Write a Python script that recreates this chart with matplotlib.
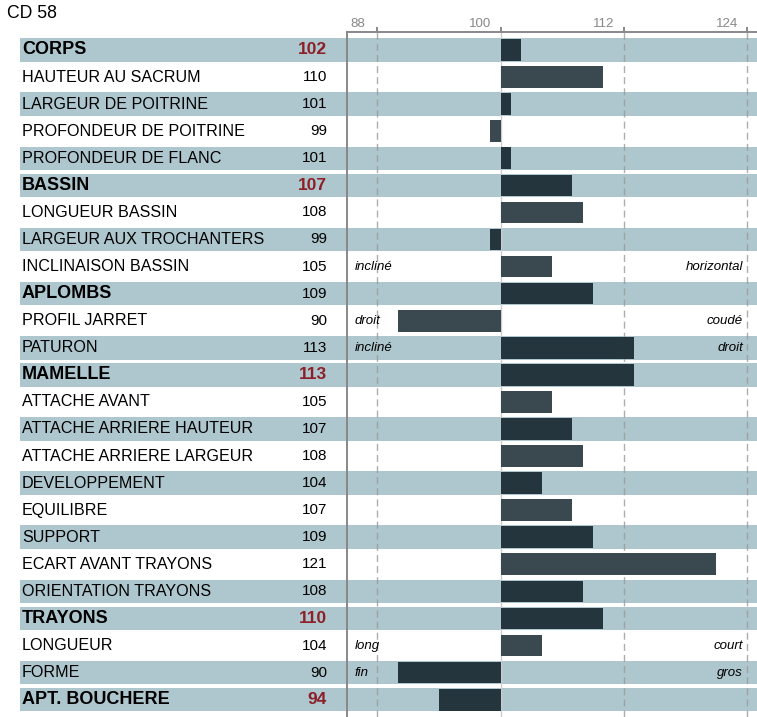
import matplotlib
matplotlib.use('Agg')
import matplotlib.pyplot as plt

plt.rcParams['font.family'] = ['Liberation Sans', 'DejaVu Sans']

# Données du tableau
labels = ['CORPS', 'HAUTEUR AU SACRUM', 'LARGEUR DE POITRINE', 'PROFONDEUR DE POITRINE',
          'PROFONDEUR DE FLANC', 'BASSIN', 'LONGUEUR BASSIN', 'LARGEUR AUX TROCHANTERS',
          'INCLINAISON BASSIN', 'APLOMBS', 'PROFIL JARRET', 'PATURON', 'MAMELLE',
          'ATTACHE AVANT', 'ATTACHE ARRIERE HAUTEUR', 'ATTACHE ARRIERE LARGEUR',
          'DEVELOPPEMENT', 'EQUILIBRE', 'SUPPORT', 'ECART AVANT TRAYONS',
          'ORIENTATION TRAYONS', 'TRAYONS', 'LONGUEUR', 'FORME', 'APT. BOUCHERE']
values = [102, 110, 101, 99, 101, 107, 108, 99, 105, 109, 90, 113, 113,
          105, 107, 108, 104, 107, 109, 121, 108, 110, 104, 90, 94]
headers = ['CORPS', 'BASSIN', 'APLOMBS', 'MAMELLE', 'TRAYONS', 'APT. BOUCHERE']
red_values = ['CORPS', 'BASSIN', 'MAMELLE', 'TRAYONS', 'APT. BOUCHERE']

ann_labels = ['INCLINAISON BASSIN', 'PROFIL JARRET', 'PATURON', 'LONGUEUR', 'FORME']
ann_left = ['incliné', 'droit', 'incliné', 'long', 'fin']
ann_right = ['horizontal', 'coudé', 'droit', 'court', 'gros']

ticks = [88, 100, 112, 124]

STRIPE = '#aec6cd'
DARK = '#25353e'
LIGHT = '#3a4850'
RED = '#8c1f27'
GRID = '#999999'

W, H = 757, 717
fig = plt.figure(figsize=(W / 100, H / 100), dpi=100)

n = len(labels)
rows = list(range(n))

# bandes : les titres de groupe sont toujours colorés, puis alternance
striped = []
k = 0
for lab in labels:
    if lab in headers:
        striped.append(True)
        k = 0
    else:
        k += 1
        striped.append(k % 2 == 0)

ytop, ybot = -0.676, 24.64
ax_top = 31.7
height_frac = (H - ax_top) / H

# axe de fond (bandes + textes)
bg = fig.add_axes([20 / W, 0, (W - 20) / W, height_frac])
bg.set_xlim(20, W)
bg.set_ylim(ybot, ytop)
bg.axis('off')
srows = [r for r in rows if striped[r]]
bg.barh(srows, W - 20, left=20, height=0.87, color=STRIPE, zorder=1)

for i, lab in enumerate(labels):
    if lab in headers:
        bg.text(22, i, lab, va='center', ha='left', fontsize=13, weight='bold', color='black')
    else:
        bg.text(22, i, lab, va='center', ha='left', fontsize=11.6, color='black')
    if lab in red_values:
        bg.text(327, i, str(values[i]), va='center', ha='right', fontsize=12.5,
                weight='bold', color=RED)
    else:
        bg.text(327, i, str(values[i]), va='center', ha='right', fontsize=11, color='black')

# axe du graphique
left_px = 346.7
ax = fig.add_axes([left_px / W, 0, (W - left_px) / W, height_frac])
ax.patch.set_alpha(0)
ax.set_xlim(85, 125)
ax.set_ylim(ybot, ytop)

for t in ticks:
    if t == 100:
        ax.axvline(t, color='#cccccc', lw=1, zorder=1)
    else:
        ax.axvline(t, color=GRID, lw=1, ls=(0, (5, 3)), zorder=1, alpha=0.8)

colors = [DARK if s else LIGHT for s in striped]
ax.barh(rows, [v - 100 for v in values], left=100, height=0.8, color=colors, zorder=2)

for lab, l, r in zip(ann_labels, ann_left, ann_right):
    i = labels.index(lab)
    ax.text(85.8, i, l, style='italic', fontsize=9.5, va='center', ha='left', zorder=3)
    ax.text(123.65, i, r, style='italic', fontsize=9.5, va='center', ha='right', zorder=3)

ax.xaxis.tick_top()
ax.set_xticks(ticks)
ax.set_xticklabels([])
ax.set_yticks([])
ax.tick_params(axis='x', direction='out', length=3.6, width=1.4, color='#888888')
for t in ticks:
    ax.annotate(str(t), xy=(t, 1), xycoords=('data', 'axes fraction'),
                xytext=(-20, 5), textcoords='offset pixels',
                ha='center', va='baseline', fontsize=9.5, color='#888888')

for side in ['right', 'bottom']:
    ax.spines[side].set_visible(False)
for side in ['top', 'left']:
    ax.spines[side].set_color('#888888')
    ax.spines[side].set_linewidth(1.4)

fig.text(6.7 / W, 1 - 18.3 / H, 'CD 58', fontsize=12.7, va='baseline', ha='left')

fig.savefig('out.png', dpi=100)
